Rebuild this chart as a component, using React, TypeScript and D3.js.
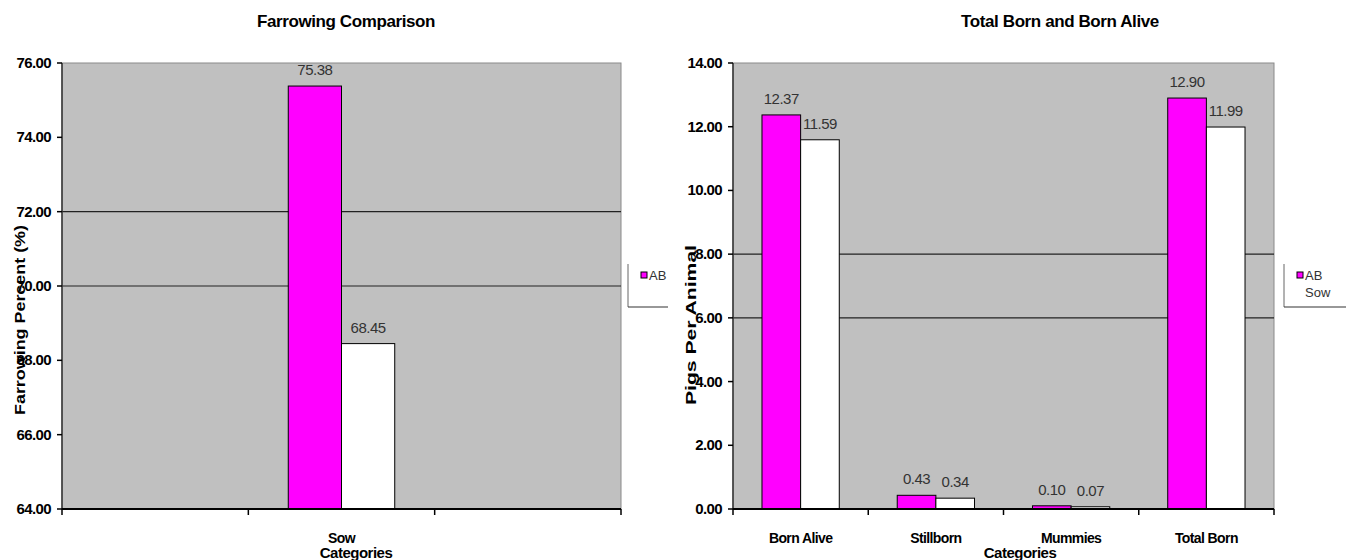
import * as React from 'react';
import * as d3 from 'd3';

// values
const seriesNames = ['AB', 'Sow'];
const seriesColors = ['#ff00ff', '#ffffff'];

const farrowCategories = ['', 'Sow', ''];
const farrowAB = [null, 75.38, null];
const farrowSow = [null, 68.45, null];
const farrowDomain = [64, 76];
const farrowGridShown = [70, 72];

const litterCategories = ['Born Alive', 'Stillborn', 'Mummies', 'Total Born'];
const litterAB = [12.37, 0.43, 0.10, 12.90];
const litterSow = [11.59, 0.34, 0.07, 11.99];
const litterDomain = [0, 14];
const litterGridShown = [6, 8];

const FONT = "'Liberation Sans', Arial, sans-serif";

interface PanelProps {
  title: string;
  yTitle: string;
  categories: string[];
  values: (number | null)[][];
  domain: number[];
  tickCount: number;
  gridShown: number[];
  legendCount: number;
  plot: { x0: number; x1: number; y0: number; y1: number };
  titleX: number;
  yTitleX: number;
  yTitleY: number;
  yTitleLen: number;
  catTitleX: number;
  legendX: number;
  legendW: number;
}

function BarPanel(props: PanelProps) {
  const { plot, categories, values, domain } = props;
  const x = d3.scaleBand<number>()
    .domain(d3.range(categories.length))
    .range([plot.x0, plot.x1]);
  const band = x.bandwidth();
  const group = band * 2 / 3.5; // excel gap width 150%
  const xs = d3.scaleBand<number>()
    .domain(d3.range(seriesNames.length))
    .range([(band - group) / 2, (band + group) / 2]);
  const y = d3.scaleLinear().domain(domain).range([plot.y1, plot.y0]);
  const ticks = y.ticks(props.tickCount);
  const fmt = d3.format('.2f');

  return (
    <g>
      <text x={props.titleX} y={27} textAnchor="middle" fontFamily={FONT}
        fontWeight="bold" fontSize={17} letterSpacing={-0.4} fill="#000">{props.title}</text>

      <rect x={plot.x0} y={plot.y0} width={plot.x1 - plot.x0} height={plot.y1 - plot.y0}
        fill="#c0c0c0" stroke="#8a8a8a" strokeWidth={1} />

      {props.gridShown.map(v => (
        <line key={v} x1={plot.x0} x2={plot.x1} y1={y(v)} y2={y(v)} stroke="#222" strokeWidth={1.2} />
      ))}

      {values.map((vals, s) =>
        vals.map((v, i) => v == null ? null : (
          <rect key={s + '-' + i}
            x={x(i)! + xs(s)!} y={y(v)} width={xs.bandwidth()} height={plot.y1 - y(v)}
            fill={seriesColors[s]} stroke="#000" strokeWidth={1} />
        ))
      )}

      {values.map((vals, s) =>
        vals.map((v, i) => v == null ? null : (
          <text key={'l' + s + '-' + i}
            x={x(i)! + xs(s)! + xs.bandwidth() / 2} y={y(v) - 11}
            textAnchor="middle" fontFamily={FONT} fontSize={15} letterSpacing={-0.5} fill="#333">{fmt(v)}</text>
        ))
      )}

      {/* y axis */}
      <line x1={plot.x0} x2={plot.x0} y1={plot.y0} y2={plot.y1} stroke="#333" strokeWidth={1.5} />
      {ticks.map(t => (
        <g key={t}>
          <line x1={plot.x0 - 5} x2={plot.x0} y1={y(t)} y2={y(t)} stroke="#000" strokeWidth={1.5} />
          <text x={plot.x0 - 11} y={y(t) + 5} textAnchor="end" fontFamily={FONT}
            fontWeight="bold" fontSize={15} letterSpacing={-0.6} fill="#000">{fmt(t)}</text>
        </g>
      ))}
      <text transform={`translate(${props.yTitleX},${props.yTitleY}) rotate(-90)`} textAnchor="middle"
        fontFamily={FONT} fontWeight="bold" fontSize={15} fill="#000"
        textLength={props.yTitleLen} lengthAdjust="spacingAndGlyphs">{props.yTitle}</text>

      {/* x axis */}
      <line x1={plot.x0} x2={plot.x1} y1={plot.y1} y2={plot.y1} stroke="#000" strokeWidth={2} />
      {d3.range(categories.length + 1).map(i => {
        const tx = i < categories.length ? x(i)! : plot.x1;
        return <line key={i} x1={tx} x2={tx} y1={plot.y1} y2={plot.y1 + 6} stroke="#000" strokeWidth={1.5} />;
      })}
      {categories.map((c, i) => (
        <text key={i} x={x(i)! + band / 2} y={543} textAnchor="middle" fontFamily={FONT}
          fontWeight="bold" fontSize={14} letterSpacing={-0.6} fill="#000">{c}</text>
      ))}
      <text x={props.catTitleX} y={558} textAnchor="middle" fontFamily={FONT}
        fontWeight="bold" fontSize={15} letterSpacing={-0.5} fill="#000">Categories</text>

      {/* legend, only its left and bottom edges show */}
      <line x1={props.legendX} x2={props.legendX} y1={264} y2={307} stroke="#666" strokeWidth={1} />
      <line x1={props.legendX} x2={props.legendX + props.legendW} y1={307} y2={307} stroke="#333" strokeWidth={1.2} />
      {seriesNames.slice(0, props.legendCount).map((name, s) => (
        <g key={name}>
          {s === 0 && <rect x={props.legendX + 13} y={272 + s * 17} width={6} height={6}
            fill={seriesColors[s]} stroke="#000" strokeWidth={1} />}
          <text x={props.legendX + 21} y={280 + s * 17} fontFamily={FONT} fontSize={13} fill="#333">{name}</text>
        </g>
      ))}
    </g>
  );
}

export default function App() {
  return (
    <div>
      <style>{'body{margin:0;background:#fff}'}</style>
      <svg width={1346} height={560} style={{ display: 'block' }}>
        <rect width={1346} height={560} fill="#fff" />
        <BarPanel title="Farrowing Comparison" yTitle="Farrowing Percent (%)"
          categories={farrowCategories} values={[farrowAB, farrowSow]}
          domain={farrowDomain} tickCount={6} gridShown={farrowGridShown} legendCount={1}
          plot={{ x0: 62, x1: 621, y0: 63, y1: 509 }}
          titleX={346} yTitleX={25} yTitleY={320} yTitleLen={190} catTitleX={356}
          legendX={628} legendW={40} />
        <BarPanel title="Total Born and Born Alive" yTitle="Pigs Per Animal"
          categories={litterCategories} values={[litterAB, litterSow]}
          domain={litterDomain} tickCount={7} gridShown={litterGridShown} legendCount={2}
          plot={{ x0: 733, x1: 1274, y0: 63, y1: 509 }}
          titleX={1060} yTitleX={696} yTitleY={325} yTitleLen={160} catTitleX={1020}
          legendX={1284} legendW={62} />
      </svg>
    </div>
  );
}
